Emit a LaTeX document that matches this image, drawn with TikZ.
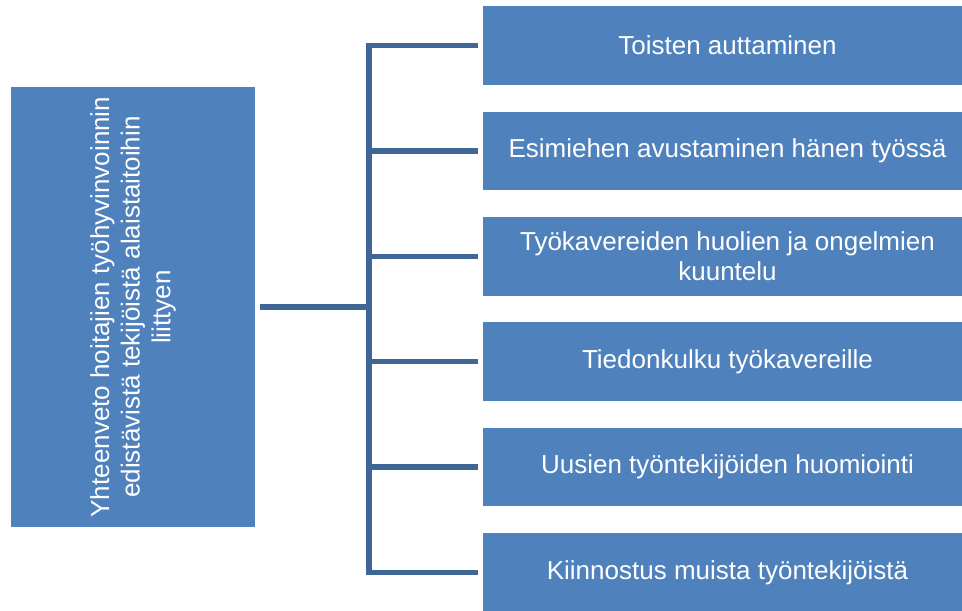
\documentclass[tikz,border=0pt]{standalone}
\usepackage{fontspec}
\setmainfont{Liberation Sans}
\usetikzlibrary{positioning,calc}
\definecolor{boxblue}{RGB}{79,129,189}
\definecolor{linkblue}{RGB}{64,102,150}

\begin{document}
\begin{tikzpicture}[x=0.02cm, y=-0.02cm,
    itembox/.style={fill=boxblue, text=white, minimum width=9.78cm, minimum height=1.57cm,
        inner sep=0pt, align=center, font=\fontsize{14.8}{17.5}\selectfont},
    rootbox/.style={fill=boxblue, text=white, rotate=90, minimum width=8.8cm, minimum height=4.88cm,
        inner sep=0pt, align=center, font=\fontsize{14.8}{17.4}\selectfont},
    link/.style={draw=linkblue, line width=3pt}]
    % fixed frame, same size as the reference
    \useasboundingbox (0,0) rectangle (962,610);
    \def\gap{105.4}

    % --- left summary box ---
    \node[rootbox] (root) at (133,307)
        {Yhteenveto hoitajien työhyvinvoinnin\\edistävistä tekijöistä alaistaitoihin\\liittyen};

    % --- right column (boxes run off the right edge) ---
    \foreach \i/\txt in {1/{Toisten auttaminen},
                         2/{Esimiehen avustaminen hänen työssä},
                         3/{Työkavereiden huolien ja ongelmien\\kuuntelu},
                         4/{Tiedonkulku työkavereille},
                         5/{Uusien työntekijöiden huomiointi},
                         6/{Kiinnostus muista työntekijöistä}} {
        \node[itembox] (item\i) at (727.5, {45.5+(\i-1)*\gap}) {\txt};
    }

    % --- connectors ---
    \coordinate (hub) at (369,307);
    \draw[link, shorten <=0.1cm] (root.south) -- (hub);
    \draw[link, line cap=rect] (hub |- item1.west) -- (hub |- item6.west);
    \foreach \i in {1,...,6} {
        \draw[link, shorten >=0.1cm] (hub |- item\i.west) -- (item\i.west);
    }
\end{tikzpicture}
\end{document}
